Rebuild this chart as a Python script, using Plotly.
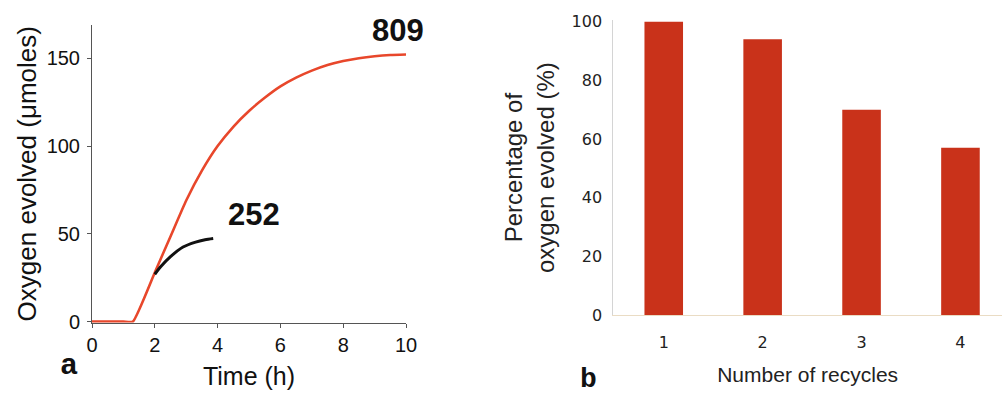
import plotly.graph_objects as go

# Panel a: oxygen evolved vs time
red_time = [0, 1.0, 1.3, 2.0, 2.5, 3.0, 3.5, 4.0, 4.5, 5.0, 5.5, 6.0, 6.5, 7.0, 7.5, 8.0, 8.5, 9.0, 9.5, 10.0]
red_oxygen = [0, 0, 0, 28, 48.5, 69, 86, 100, 111, 120, 127.5, 134, 139, 143, 146.2, 148.5, 150.1, 151.2, 151.9, 152.2]
black_time = [2.0, 2.2, 2.5, 2.9, 3.3, 3.6, 3.86]
black_oxygen = [27, 31.5, 37, 42.5, 45.3, 46.6, 47.3]
label_a = [("809", 9.75, 166), ("252", 5.16, 61)]

# Panel b: recycles
recycles = [1, 2, 3, 4]
percent = [100, 94, 70, 57]

W, H = 1002, 396
def px(x):
    return x / W
def py(y):
    return 1 - y / H

fig = go.Figure()
fig.add_trace(go.Scatter(x=red_time, y=red_oxygen, mode="lines", line=dict(color="#e8472b", width=2.6, shape="spline", smoothing=0.45),
                         xaxis="x", yaxis="y", showlegend=False))
fig.add_trace(go.Scatter(x=black_time, y=black_oxygen, mode="lines", line=dict(color="#111111", width=3, shape="spline", smoothing=0.8),
                         xaxis="x", yaxis="y", showlegend=False))
fig.add_trace(go.Bar(x=recycles, y=percent, marker=dict(color="#c9321a", line=dict(width=0)), width=0.39,
                     xaxis="x2", yaxis="y2", showlegend=False))

axis_font = dict(family="Liberation Sans, Arial", size=20, color="#111")
fig.update_layout(
    width=W, height=H, margin=dict(l=0, r=0, t=0, b=0, autoexpand=False),
    paper_bgcolor="white", plot_bgcolor="white",
    xaxis=dict(domain=[px(92), px(406)], range=[0, 10], tickvals=[0, 2, 4, 6, 8, 10], automargin=False,
               showline=True, linecolor="#555", linewidth=1, ticks="outside", ticklen=4, tickcolor="#555",
               showgrid=False, zeroline=False, tickfont=axis_font,
               title=dict(text="Time (h)", font=dict(family="Liberation Sans, Arial", size=25, color="#111"), standoff=12)),
    yaxis=dict(domain=[py(322.5), py(25)], range=[-0.5, 169], tickvals=[0, 50, 100, 150], automargin=False,
               showline=True, linecolor="#555", linewidth=1, ticks="outside", ticklen=4, tickcolor="#555",
               showgrid=False, zeroline=False, tickfont=axis_font, ticklabelstandoff=3,
               title=dict(text="Oxygen evolved (μmoles)", font=dict(family="Liberation Sans, Arial", size=26, color="#111"), standoff=2)),
    xaxis2=dict(domain=[px(613.3), 1.0], range=[0.49, 4.42], tickvals=recycles, anchor="y2", automargin=False,
                showline=True, linecolor="#eadcc4", linewidth=1, ticks="", showgrid=False, zeroline=False,
                tickfont=dict(family="DejaVu Sans", size=16, color="#222"), ticklabelstandoff=13,
                title=dict(text="Number of recycles", font=dict(family="Liberation Sans, Arial", size=21, color="#222"), standoff=16)),
    yaxis2=dict(domain=[py(315), py(20.2)], range=[0, 100.5], tickvals=[0, 20, 40, 60, 80, 100], anchor="x2", automargin=False,
                showline=True, linecolor="#d4d4d4", linewidth=1, ticks="", showgrid=False, zeroline=False,
                tickfont=dict(family="DejaVu Sans", size=16, color="#222"), ticklabelstandoff=7,
                title=dict(text="Percentage of<br>oxygen evolved (%)", font=dict(family="Liberation Sans, Arial", size=24, color="#222"), standoff=10)),
)

for txt, x, y in label_a:
    fig.add_annotation(x=x, y=y, xref="x", yref="y", text=f"<b>{txt}</b>", showarrow=False,
                       font=dict(family="Liberation Sans, Arial", size=31, color="#111"))

fig.add_annotation(x=px(69), y=py(366), xref="paper", yref="paper", xanchor="center", yanchor="middle",
                   text="<b>a</b>", showarrow=False,
                   font=dict(family="Liberation Mono, Courier New", size=30, color="#111"))
fig.add_annotation(x=px(588), y=py(379), xref="paper", yref="paper", xanchor="center", yanchor="middle",
                   text="<b>b</b>", showarrow=False,
                   font=dict(family="Liberation Mono, Courier New", size=28, color="#111"))

fig.write_html("out.html", config={"displayModeBar": False},
               post_script="document.body.style.margin='0px';document.body.style.overflow='hidden';")
